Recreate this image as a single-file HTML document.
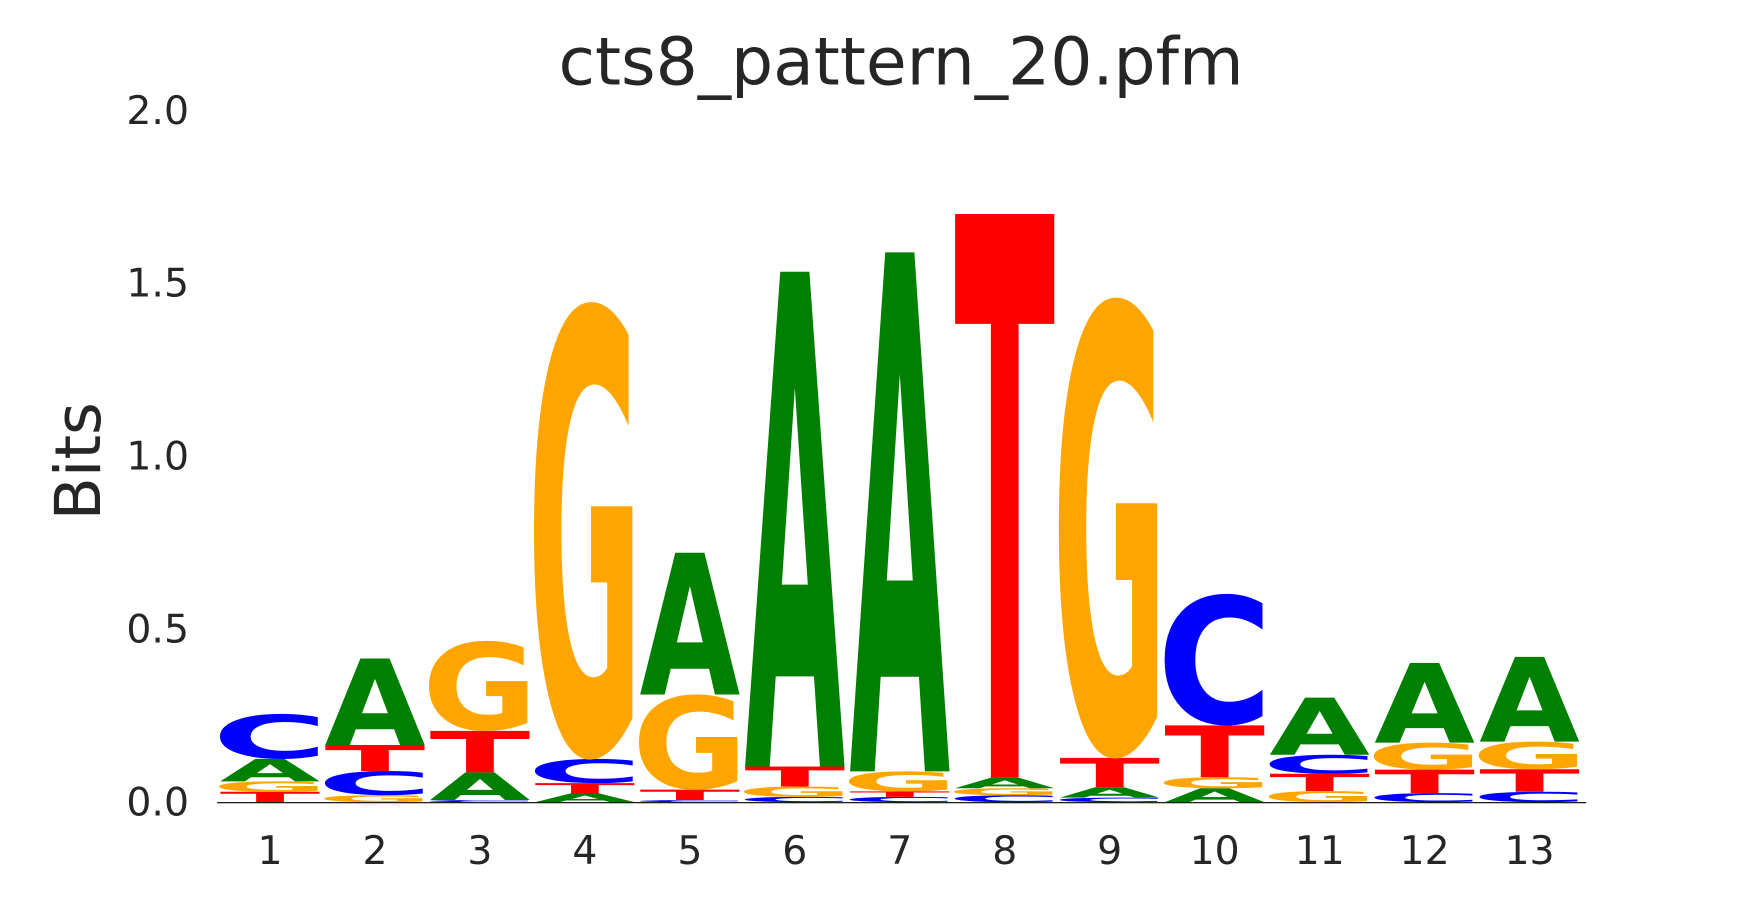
<!DOCTYPE html>
<html><head><meta charset="utf-8">
<style>
html,body{margin:0;padding:0;background:#fff;overflow:hidden;width:1755px;height:900px;}
svg{display:block;overflow:hidden;}
text{font-family:"DejaVu Sans","Liberation Sans",sans-serif;fill:#262626;}
</style></head>
<body>
<svg id="chart" width="1755" height="900" viewBox="0 0 1560 800" xmlns="http://www.w3.org/2000/svg">
<text x="801" y="75" font-size="59" text-anchor="middle">cts8_pattern_20.pfm</text>
<text transform="translate(89,410) rotate(-90)" font-size="56" text-anchor="middle">Bits</text>
<g id="yticks"></g>
<g id="xticks"></g>
<g id="letters"></g>
<line x1="193" x2="1410" y1="713.5" y2="713.5" stroke="#000" stroke-width="1"/>
</svg>
<script>
const positions = ["1","2","3","4","5","6","7","8","9","10","11","12","13"];
const yTickValues = [0, 0.5, 1.0, 1.5, 2.0];
const yTickLabels = ["0.0","0.5","1.0","1.5","2.0"];
// stacks bottom-to-top: [letter, bits]
const stack1 = [["T",0.03],["G",0.03],["A",0.065],["C",0.13]];
const stack2 = [["G",0.02],["C",0.07],["T",0.075],["A",0.25]];
const stack3 = [["C",0.006],["A",0.08],["T",0.12],["G",0.26]];
const stack4 = [["A",0.025],["T",0.03],["C",0.07],["G",1.32]];
const stack5 = [["C",0.006],["T",0.03],["G",0.275],["A",0.41]];
const stack6 = [["C",0.015],["G",0.03],["T",0.058],["A",1.43]];
const stack7 = [["C",0.015],["T",0.016],["G",0.058],["A",1.5]];
const stack8 = [["C",0.02],["G",0.02],["A",0.03],["T",1.63]];
const stack9 = [["C",0.013],["A",0.03],["T",0.085],["G",1.33]];
const stack10 = [["A",0.04],["G",0.032],["T",0.15],["C",0.38]];
const stack11 = [["G",0.032],["T",0.05],["C",0.055],["A",0.165]];
const stack12 = [["C",0.026],["T",0.068],["G",0.078],["A",0.23]];
const stack13 = [["C",0.03],["T",0.065],["G",0.08],["A",0.245]];
const stacks = [stack1,stack2,stack3,stack4,stack5,stack6,stack7,stack8,stack9,stack10,stack11,stack12,stack13];

const colors = {A:"#008000",C:"#0000ff",G:"#ffa500",T:"#ff0000"};
const widthFix = {A:1.0,C:1.15,G:1.15,T:1.0};
const NS="http://www.w3.org/2000/svg";
const y0=713, pxPerBit=307.5;
function yScale(v){return y0 - v*pxPerBit;}
function xScale(i){return 240 + i*93.3;}
const colW=89.5;

const yt=document.getElementById('yticks');
yTickValues.forEach((v,i)=>{
  const t=document.createElementNS(NS,'text');
  
  
  t.setAttribute('x',168);t.setAttribute('y',yScale(v)+12);
  t.setAttribute('font-size','35');t.setAttribute('text-anchor','end');
  t.textContent=yTickLabels[i];yt.appendChild(t);
});
const xt=document.getElementById('xticks');
positions.forEach((p,i)=>{
  const t=document.createElementNS(NS,'text');
  
  
  t.setAttribute('x',xScale(i));t.setAttribute('y',768);
  t.setAttribute('font-size','35');t.setAttribute('text-anchor','middle');
  t.textContent=p;xt.appendChild(t);
});
const lg=document.getElementById('letters');
stacks.forEach((st,i)=>{
  let cum=0;
  st.forEach(([L,h])=>{
    const bottom=yScale(cum), top=yScale(cum+h);
    cum+=h;
    const t=document.createElementNS(NS,'text');
    
    
    t.setAttribute('font-size','100');t.setAttribute('font-weight','bold');
    t.setAttribute('text-anchor','middle');
    t.setAttribute('x',0);t.setAttribute('y',0);
    t.style.fill=colors[L];
    t.textContent=L;
    lg.appendChild(t);
    const w=t.getComputedTextLength()||70;
    const capH=(L==='C'||L==='G')?75.5:72.9;
    const off=(L==='C'||L==='G')?1.3:0;
    const sx=colW/w*widthFix[L], sy=(bottom-top)/capH;
    t.setAttribute('transform',`translate(${xScale(i)},${bottom - off*sy}) scale(${sx},${sy})`);
  });
});
</script>
</body></html>
